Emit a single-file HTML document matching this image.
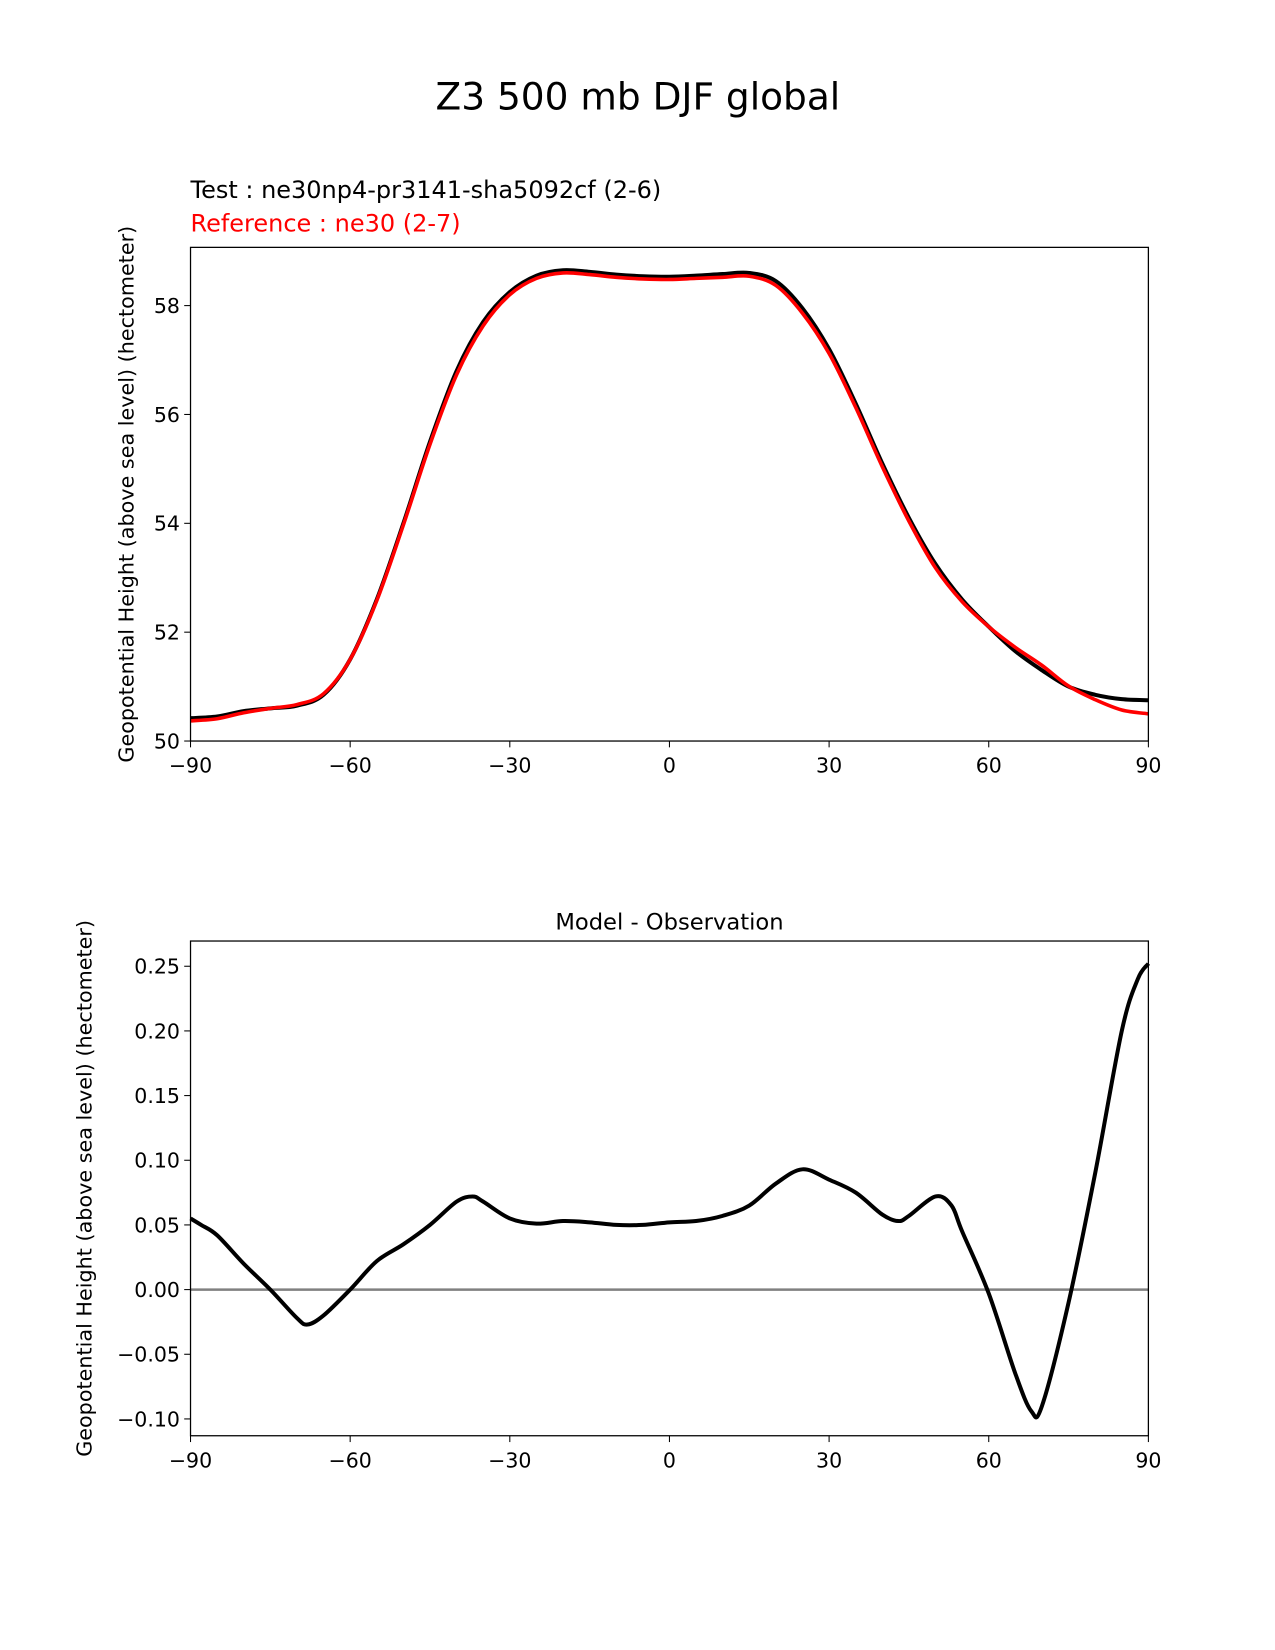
<!DOCTYPE html>
<html><head><meta charset="utf-8"><style>
body{margin:0;background:#fff}
svg{display:block;font-family:"DejaVu Sans","Liberation Sans",sans-serif}
</style></head><body>
<svg id="fig" width="1275" height="1650" viewBox="0 0 1275 1650">
<rect width="1275" height="1650" fill="#fff"/>
<g transform="scale(1.0526)">
<text x="606" y="104" font-size="35.6" text-anchor="middle">Z3 500 mb DJF global</text>
<text x="181" y="188" font-size="22.8">Test : ne30np4-pr3141-sha5092cf (2-6)</text>
<text x="181" y="220" font-size="22.8" fill="#ff0000">Reference : ne30 (2-7)</text>
<text x="636" y="883" font-size="21.5" text-anchor="middle">Model - Observation</text>
<g id="topPlot"></g>
<g id="botPlot"></g>
</g>
</svg>
<script>
const lats=[-90,-85,-80,-75,-70,-65,-60,-55,-50,-45,-40,-35,-30,-25,-20,-15,-10,-5,0,5,10,15,20,25,30,35,40,45,50,55,60,65,70,75,80,85,90];
const testVals=[50.42,50.45,50.55,50.6,50.65,50.85,51.5,52.6,54.0,55.5,56.8,57.7,58.25,58.55,58.65,58.62,58.57,58.54,58.53,58.55,58.58,58.6,58.45,57.95,57.2,56.2,55.1,54.1,53.25,52.6,52.1,51.65,51.3,51.0,50.85,50.77,50.75];
const refVals=[50.37,50.41,50.52,50.6,50.67,50.87,51.5,52.58,53.97,55.45,56.73,57.63,58.2,58.5,58.6,58.57,58.52,58.49,58.48,58.5,58.52,58.54,58.37,57.86,57.12,56.13,55.04,54.04,53.18,52.56,52.1,51.72,51.39,51.01,50.76,50.57,50.5];
const diffLats=[-90,-88,-85,-80,-75,-70,-68,-65,-60,-55,-50,-45,-40,-37,-35,-30,-25,-20,-15,-10,-5,0,5,10,15,20,25,30,35,40,43,45,50,53,55,60,65,68,70,75,80,85,88,90];
const diffVals=[0.055,0.05,0.042,0.02,0.0,-0.022,-0.027,-0.02,0.0,0.022,0.035,0.05,0.068,0.072,0.068,0.055,0.051,0.053,0.052,0.05,0.05,0.052,0.053,0.057,0.065,0.082,0.093,0.085,0.075,0.058,0.053,0.057,0.072,0.065,0.045,-0.003,-0.065,-0.094,-0.09,-0.01,0.09,0.2,0.24,0.252];
const xTicks=[-90,-60,-30,0,30,60,90];
const topTicks=[50,52,54,56,58];
const botTicks=[-0.10,-0.05,0.00,0.05,0.10,0.15,0.20,0.25];
const NS="http://www.w3.org/2000/svg";
function mk(p,t,a){const e=document.createElementNS(NS,t);for(const k in a)e.setAttribute(k,a[k]);p.appendChild(e);return e;}
function path(xs,ys){let d="M"+xs[0]+","+ys[0];for(let i=0;i<xs.length-1;i++){const x0=xs[Math.max(i-1,0)],y0=ys[Math.max(i-1,0)],x1=xs[i],y1=ys[i],x2=xs[i+1],y2=ys[i+1],x3=xs[Math.min(i+2,xs.length-1)],y3=ys[Math.min(i+2,xs.length-1)];d+=" C"+(x1+(x2-x0)/6)+","+(y1+(y2-y0)/6)+" "+(x2-(x3-x1)/6)+","+(y2-(y3-y1)/6)+" "+x2+","+y2;}return d;}
function axes(g,L,T,R,B,ymin,ymax,yt,fmt,ylab,labX){
 const sx=v=>L+(v+90)/180*(R-L), sy=v=>B-(v-ymin)/(ymax-ymin)*(B-T);
 xTicks.forEach(v=>{const x=sx(v);mk(g,"line",{x1:x,x2:x,y1:B,y2:B+6,stroke:"#000"});const t=mk(g,"text",{x:x,y:B+30,"font-size":19.5,"text-anchor":"middle"});t.textContent=String(v).replace("-","\u2212");
 
 });
 yt.forEach(v=>{const y=sy(v);mk(g,"line",{x1:L-6,x2:L,y1:y,y2:y,stroke:"#000"});const t=mk(g,"text",{x:L-10,y:y+7,"font-size":19.5,"text-anchor":"end"});t.textContent=fmt(v).replace("-","\u2212");
 
 });
 const yl=mk(g,"text",{x:0,y:0,"font-size":19.7,"text-anchor":"middle",transform:`translate(${labX},${(T+B)/2}) rotate(-90)`});yl.textContent=ylab;
 
 
 return [sx,sy];
}
const ylab="Geopotential Height (above sea level) (hectometer)";
const topG=document.getElementById("topPlot");
let [sx,sy]=axes(topG,181,235,1091,704,50,59.07,topTicks,v=>String(v),ylab,127);
let p=mk(topG,"path",{d:path(lats.map(sx),testVals.map(sy)),fill:"none",stroke:"#000","stroke-width":3.8});

p=mk(topG,"path",{d:path(lats.map(sx),refVals.map(sy)),fill:"none",stroke:"#ff0000","stroke-width":3.4});

mk(topG,"rect",{x:181,y:235,width:910,height:469,fill:"none",stroke:"#000","stroke-width":1.2});
const botG=document.getElementById("botPlot");
[sx,sy]=axes(botG,181,894,1091,1364,-0.113,0.2695,botTicks,v=>v.toFixed(2),ylab,87);
p=mk(botG,"line",{x1:181,x2:1091,y1:sy(0),y2:sy(0),stroke:"#808080","stroke-width":2.4});

p=mk(botG,"path",{d:path(diffLats.map(sx),diffVals.map(sy)),fill:"none",stroke:"#000","stroke-width":3.8});

mk(botG,"rect",{x:181,y:894,width:910,height:470,fill:"none",stroke:"#000","stroke-width":1.2});
</script>
</body></html>
